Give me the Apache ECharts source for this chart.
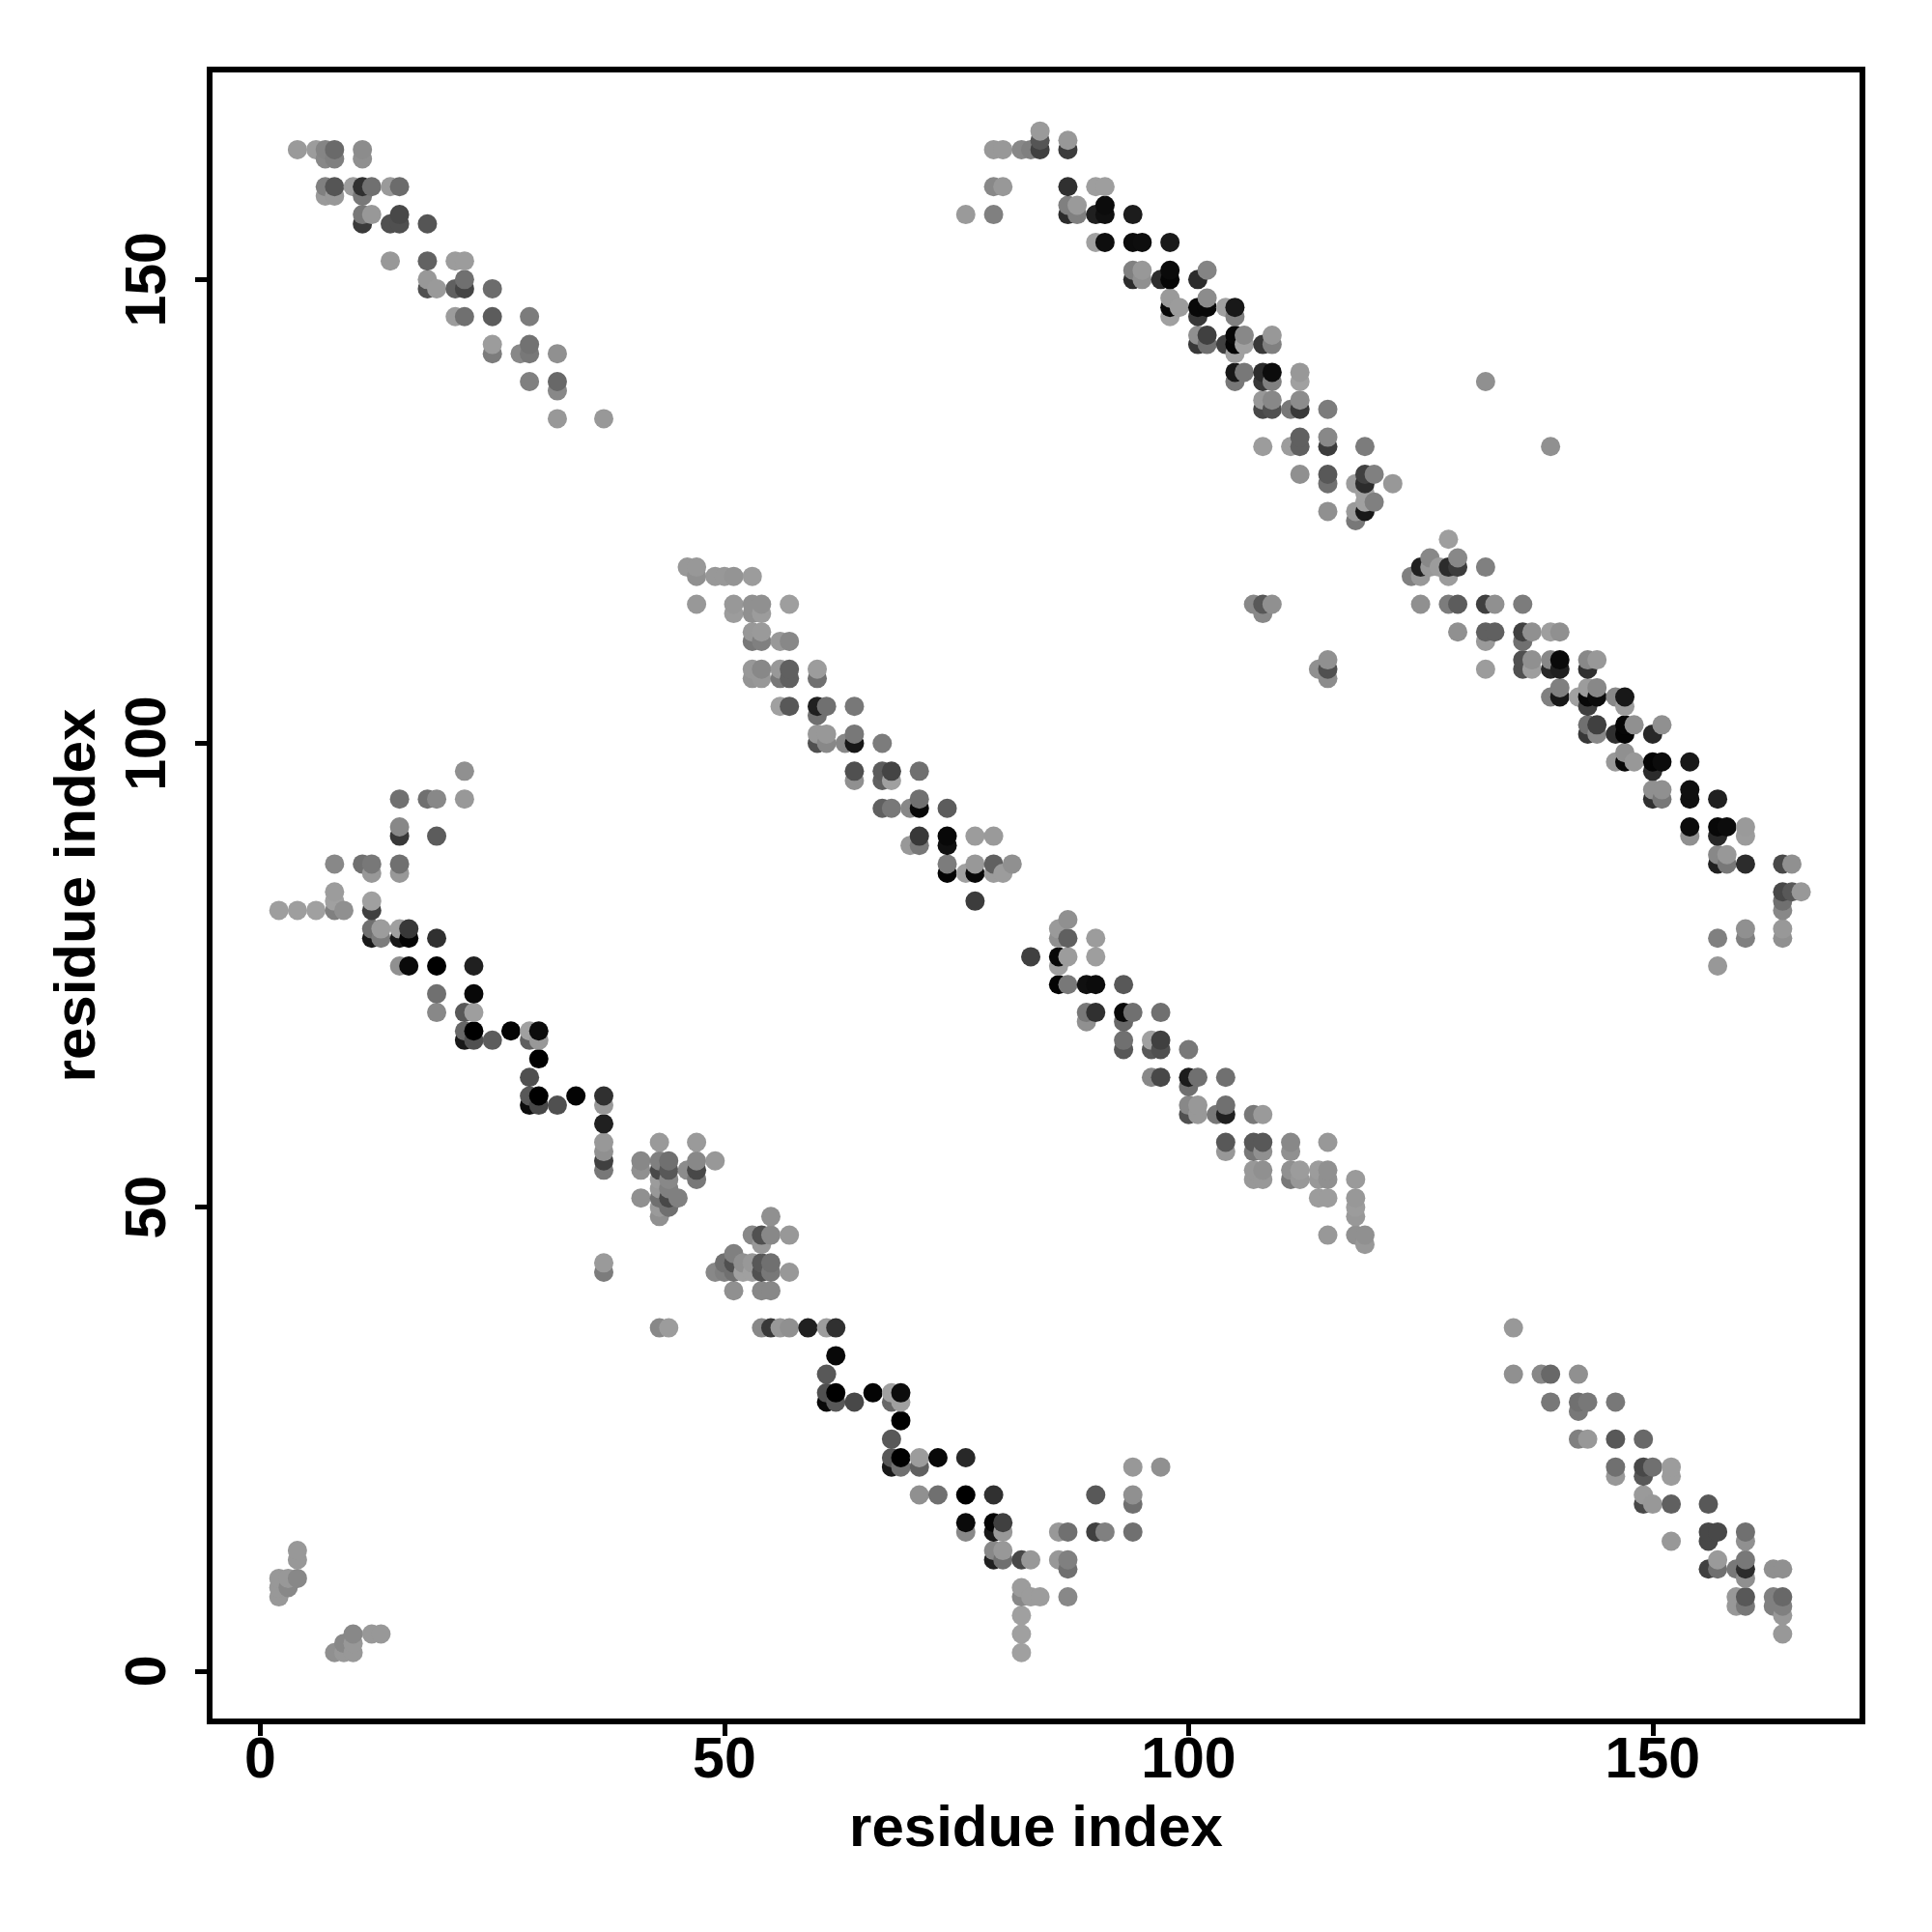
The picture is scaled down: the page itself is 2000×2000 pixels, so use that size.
<!DOCTYPE html>
<html><head><meta charset="utf-8">
<style>html,body{margin:0;padding:0;background:#fff}#c{width:2000px;height:2000px}</style>
<script src="https://cdn.jsdelivr.net/npm/echarts@6/dist/echarts.min.js"></script>
</head><body><div id="c"></div>
<script>
const tickValues = [0, 50, 100, 150];
const xTitle = 'residue index';
const yTitle = 'residue index';
// each point: [residue i, residue j, grey level]
const upperLeftBand = [
[4,164,0x9a],[6,164,0x9c],[7,164,0x85],[8,164,0x6a],[11,164,0x8c],
[7,163,0x88],[8,163,0x80],[11,163,0x90],
[7,160,0x80],[8,160,0x55],[10,160,0x9c],[11,160,0x30],[12,160,0x70],[14,160,0x9a],[15,160,0x6c],
[7,159,0x9a],[8,159,0x98],[11,159,0x78],
[11,157,0x78],[12,157,0x98],[15,157,0x48],
[11,156,0x3a],[14,156,0x50],[15,156,0x50],[18,156,0x55],
[14,152,0x98],[18,152,0x62],[21,152,0x9c],[22,152,0x9c],
[18,150,0x98],[22,150,0x70],
[18,149,0x50],[19,149,0x9a],[21,149,0x60],[22,149,0x45],[25,149,0x6c],
[21,146,0x9c],[22,146,0x70],[25,146,0x5c],[29,146,0x7c],
[25,143,0x9c],[29,143,0x72],
[25,142,0x7c],[28,142,0x88],[29,142,0x78],[32,142,0x90],
[29,139,0x80],[32,139,0x68],
[32,138,0x88],
[32,135,0x98],[37,135,0x98]
];
const upperRightBand = [
[84,166,0x9a],
[84,165,0x55],[87,165,0x98],
[79,164,0x98],[80,164,0x98],[82,164,0x88],[83,164,0x80],[84,164,0x40],[87,164,0x3c],
[79,160,0x88],[80,160,0x98],[87,160,0x30],[90,160,0x9e],[91,160,0x9e],
[87,158,0x80],[88,158,0x9a],[91,158,0x0c],
[76,157,0x9a],[79,157,0x80],[87,157,0x2c],[88,157,0x80],[90,157,0x20],[91,157,0x10],[94,157,0x1c],
[90,154,0xa0],[91,154,0x0e],[94,154,0x0c],[95,154,0x0e],[98,154,0x1a],
[94,151,0x80],[95,151,0x98],[98,151,0x0a],[102,151,0x84],
[94,150,0x2c],[95,150,0x90],[97,150,0x2c],[98,150,0x06],[101,150,0x2c],
[98,148,0x9a],[102,148,0x8c],
[98,147,0x08],[99,147,0x9c],[101,147,0x08],[102,147,0x08],[104,147,0xa0],[105,147,0x18],
[98,146,0xa0],[101,146,0x38],[105,146,0x80],
[101,144,0x90],[102,144,0x40],[105,144,0x08],[106,144,0x88],[109,144,0x98],
[101,143,0x38],[102,143,0x70],[104,143,0x40],[105,143,0x04],[106,143,0xa0],[108,143,0x38],[109,143,0x80],
[105,142,0xa0],
[105,140,0x18],[106,140,0x78],[108,140,0x2c],[109,140,0x0c],[112,140,0x98],
[105,139,0x78],[108,139,0x38],[109,139,0x80],[112,139,0xa0],[132,139,0x90],
[108,137,0x98],[109,137,0x88],[112,137,0x8c],
[108,136,0x48],[109,136,0x50],[111,136,0x78],[112,136,0x38],[115,136,0x7c],
[112,133,0x60],[115,133,0x88],
[108,132,0x9c],[111,132,0x9c],[112,132,0x60],[115,132,0x3c],[119,132,0x7c],[139,132,0x90],
[112,129,0x90],[115,129,0x58],[119,129,0x40],[120,129,0x80],
[115,128,0x70],[118,128,0x9c],[119,128,0x2c],[122,128,0x98],
[119,127,0xa0],
[119,126,0xa0],[120,126,0x80],
[115,125,0x90],[118,125,0x9a],[119,125,0x18],
[118,124,0x78],
[128,122,0x9e],
[126,120,0x88],[129,120,0x88],
[125,119,0x20],[126,119,0x98],[127,119,0x9c],[128,119,0x2c],[129,119,0x3c],[132,119,0x80],
[124,118,0x80],[125,118,0x98],[128,118,0x9c],
[107,115,0x88],[108,115,0x58],[109,115,0x90],[125,115,0x90],[128,115,0x7c],[129,115,0x5c],[132,115,0x40],[133,115,0x90],[136,115,0x7c],
[108,114,0x88],
[129,112,0x90],[132,112,0x60],[133,112,0x60],[136,112,0x40],[137,112,0x90],[139,112,0x9e],[140,112,0x90],
[132,111,0x9a],[136,111,0x70],
[115,109,0x90],[136,109,0x50],[137,109,0x90],[139,109,0x88],[140,109,0x0a],[143,109,0x88],[144,109,0x98],
[114,108,0x90],[115,108,0x50],[132,108,0x9c],[136,108,0x50],[137,108,0x9e],[139,108,0x28],[140,108,0x20],[143,108,0x30],
[115,107,0x8c],
[140,106,0x80],[143,106,0x9c],[144,106,0x88],
[139,105,0x80],[140,105,0x18],[142,105,0xa0],[143,105,0x08],[144,105,0x0c],[146,105,0x88],[147,105,0x18],
[143,104,0x40],[147,104,0x9c],
[143,102,0x70],[144,102,0x40],[147,102,0x06],[148,102,0x90],[151,102,0x90],
[143,101,0x38],[144,101,0x88],[146,101,0x30],[147,101,0x04],[150,101,0x28],
[147,99,0x90],
[146,98,0x98],[147,98,0x08],[148,98,0x98],[150,98,0x04],[151,98,0x0c],[154,98,0x18],
[150,97,0x2c],
[150,95,0x90],[151,95,0x90],[154,95,0x10],
[150,94,0x30],[151,94,0x78],[154,94,0x10],[157,94,0x20],
[154,91,0x0c],[157,91,0x08],[158,91,0x0c],[160,91,0x9a],
[154,90,0x90],[157,90,0x28],[160,90,0x9c],
[157,88,0x88],[158,88,0x98],
[157,87,0x20],[158,87,0x78],[160,87,0x2c],[164,87,0x48],[165,87,0x90],
[164,84,0x48],[165,84,0x58],[166,84,0x98],
[164,83,0x70],
[164,82,0x88],
[160,80,0x90],[164,80,0x98],
[157,79,0x80],[160,79,0x80],[164,79,0x90],
[157,76,0x98]
];
const middleBand = [
[46,119,0x98],[47,119,0x98],
[47,118,0x90],[49,118,0x98],[50,118,0x98],[51,118,0x94],[53,118,0x9c],
[47,115,0x98],[51,115,0x98],[53,115,0x90],[54,115,0x90],[57,115,0x9e],
[51,114,0x9c],[53,114,0x90],[54,114,0x9c],
[53,112,0x98],[54,112,0x9a],
[53,111,0x78],[54,111,0x80],[56,111,0x98],[57,111,0x88],
[53,108,0x98],[54,108,0x88],[56,108,0x98],[57,108,0x60],[60,108,0x9c],
[53,107,0x94],[54,107,0x98],[56,107,0x78],[57,107,0x60],[60,107,0x70],
[56,104,0xa0],[57,104,0x58],[60,104,0x20],[61,104,0x70],[64,104,0x78],
[60,103,0x70],
[60,101,0x98],[61,101,0x98],[64,101,0x78],
[60,100,0x50],[61,100,0x88],[63,100,0x88],[64,100,0x18],[67,100,0x7c],
[64,97,0x50],[67,97,0x5c],[68,97,0x44],[71,97,0x70],
[64,96,0x90],[67,96,0x60],[68,96,0xa0],
[71,94,0x70],
[67,93,0x60],[68,93,0x78],[70,93,0x88],[71,93,0x08],[74,93,0x5c],
[71,90,0x38],[74,90,0x08],[77,90,0x9c],[79,90,0x9a],
[70,89,0x98],[71,89,0x78],[74,89,0x10],
[74,87,0x7c],[77,87,0x98],[79,87,0x60],[81,87,0x90],
[74,86,0x04],[76,86,0xa0],[77,86,0x08],[79,86,0x9c],[80,86,0x9c],
[77,83,0x3c],
[87,81,0x90],
[86,80,0x9a],
[86,79,0x90],[87,79,0x60],[90,79,0x9c],
[83,77,0x40],[86,77,0x08],[87,77,0x9c],[90,77,0x9e],
[86,76,0xa0],
[86,74,0x04],[87,74,0x78],[89,74,0x10],[90,74,0x0c],[93,74,0x58],
[89,71,0x78],[90,71,0x30],[93,71,0x08],[94,71,0x70],[97,71,0x70],
[89,70,0x90],[93,70,0x68],
[93,68,0x70],[96,68,0xa0],[97,68,0x40],
[93,67,0x58],[96,67,0x58],[97,67,0x50],[100,67,0x78],
[96,64,0x88],[97,64,0x48],[100,64,0x1c],[101,64,0x70],[104,64,0x70],
[100,63,0x70],
[100,61,0x88],[101,61,0x98],[104,61,0x70],
[100,60,0x50],[101,60,0x98],[103,60,0x78],[104,60,0x20],[107,60,0x78],[108,60,0x9a],
[104,57,0x58],[107,57,0x58],[108,57,0x58],[111,57,0x88],[115,57,0x98],
[104,56,0x98],[107,56,0x78],[108,56,0x90],[111,56,0x90],
[107,54,0x98],[108,54,0x90],[111,54,0x90],[112,54,0x9c],[114,54,0x9c],[115,54,0x90],
[107,53,0x98],[108,53,0x98],[111,53,0x78],[112,53,0x98],[114,53,0x98],[115,53,0x90],[118,53,0x9a],
[114,51,0x9c],[115,51,0x9c],[118,51,0x98],
[118,50,0x9c],
[118,49,0x98],
[115,47,0x98],[118,47,0x90],[119,47,0x90],
[119,46,0x98]
];
const lowerBandTop = [
[22,97,0x90],
[15,94,0x70],[18,94,0x70],[19,94,0x88],[22,94,0x98],
[15,91,0x88],
[15,90,0x38],[19,90,0x5c],
[8,87,0x88],[11,87,0x70],[12,87,0x78],[15,87,0x70],
[12,86,0x98],[15,86,0x98],
[8,84,0x9c],
[8,83,0xa0],[12,83,0xa0],
[2,82,0x9e],[4,82,0x9e],[6,82,0xa0],[8,82,0x80],[9,82,0x90],[12,82,0x40],
[12,80,0x70],[13,80,0x9c],[15,80,0xa0],[16,80,0x38],
[12,79,0x18],[13,79,0x7c],[15,79,0x18],[16,79,0x04],[19,79,0x30],
[15,76,0x90],[16,76,0x0a],[19,76,0x00],[23,76,0x20],
[19,73,0x70],[23,73,0x08],
[19,71,0x88],[22,71,0x58],[23,71,0x9e],
[22,69,0x68],[23,69,0x00],[27,69,0x04],[29,69,0xa0],[30,69,0x0c],
[22,68,0x18],[23,68,0x50],[25,68,0x5c],[29,68,0x60],[30,68,0x98],
[30,66,0x00],
[29,64,0x50],
[29,62,0x58],[30,62,0x00],[34,62,0x04],[37,62,0x30],
[29,61,0x0c],[30,61,0x48],[32,61,0x50],[37,61,0x98],
[37,59,0x20],
[37,57,0x98],[43,57,0x9a],[47,57,0x9a],
[37,56,0x90],
[37,55,0x40],[41,55,0x88],[43,55,0x80],[44,55,0x70],[47,55,0x88],[49,55,0x98],
[37,54,0x78],[41,54,0x90],[43,54,0x48],[44,54,0x58],[46,54,0x8c],[47,54,0x48],
[43,53,0x9c],[44,53,0x88],[47,53,0x78],
[43,52,0x98],[44,52,0x80],
[41,51,0x90],[43,51,0x70],[44,51,0x48],[45,51,0x80],
[43,50,0x9a],[44,50,0x70],
[43,49,0x90],
[55,49,0x90],
[53,47,0x88],[54,47,0x50],[55,47,0x88],[57,47,0x98],
[54,46,0x98],
[51,45,0x80],
[37,44,0x9a],[50,44,0x70],[51,44,0x50],[52,44,0x90],[53,44,0x98],[54,44,0x58],[55,44,0x70],
[37,43,0x7c],[49,43,0x88],[50,43,0x80],[51,43,0x70],[52,43,0xa0],[53,43,0xa0],[54,43,0x50],[55,43,0x78],[57,43,0x98],
[51,41,0x90],[54,41,0x88],[55,41,0x88]
];
const lowerBandBottom = [
[43,37,0x88],[44,37,0x9c],[54,37,0x88],[55,37,0x38],[56,37,0x98],[57,37,0x90],[59,37,0x20],[61,37,0x9c],[62,37,0x30],
[62,34,0x08],
[61,32,0x58],
[61,30,0x50],[62,30,0x00],[66,30,0x04],[68,30,0xa0],[69,30,0x0c],
[61,29,0x08],[62,29,0x58],[64,29,0x48],[68,29,0x68],[69,29,0xa0],
[69,27,0x00],
[68,25,0x58],
[68,23,0x58],[69,23,0x00],[71,23,0x9c],[73,23,0x08],[76,23,0x28],
[68,22,0x18],[69,22,0x70],[71,22,0x60],[94,22,0x98],[97,22,0x90],
[71,19,0x90],[73,19,0x70],[76,19,0x00],[79,19,0x30],[90,19,0x58],[94,19,0x90],
[94,18,0x70],
[76,16,0x0a],[79,16,0x04],[80,16,0x40],
[76,15,0x88],[79,15,0x18],[80,15,0x98],[86,15,0x98],[87,15,0x70],[90,15,0x40],[91,15,0x80],[94,15,0x70],
[79,13,0x88],[80,13,0x98],
[79,12,0x20],[80,12,0x70],[82,12,0x48],[83,12,0x98],[86,12,0x98],[87,12,0x80],
[87,11,0x70],
[82,9,0x9c],
[82,8,0x88],[83,8,0x9c],[84,8,0x9c],[87,8,0x88],
[82,6,0xa0],
[82,4,0xa0],
[82,2,0xa0]
];
const lowerRightBand = [
[135,37,0x98],
[135,32,0x90],[138,32,0x88],[139,32,0x68],[142,32,0x90],
[139,29,0x78],[142,29,0x70],[143,29,0x78],[146,29,0x78],
[142,28,0x78],
[142,25,0x80],[143,25,0x98],[146,25,0x58],[149,25,0x68],
[146,22,0x70],[149,22,0x48],[150,22,0x70],[152,22,0x9c],
[146,21,0x98],[149,21,0x58],[152,21,0x9c],
[149,19,0x9a],
[149,18,0x48],[150,18,0x98],[152,18,0x60],[156,18,0x58],
[156,15,0x48],[157,15,0x48],[160,15,0x70],
[152,14,0x98],[156,14,0x48],[160,14,0x90],
[157,12,0x9a],[160,12,0x78],
[156,11,0x40],[157,11,0x70],[159,11,0x78],[160,11,0x2c],[163,11,0x90],[164,11,0x90],
[160,10,0x90],
[159,8,0x98],[160,8,0x58],[163,8,0x80],[164,8,0x68],
[159,7,0x98],[160,7,0x78],[163,7,0x80],[164,7,0x80],
[164,6,0x98],
[164,4,0x98]
];
const cornerCluster = [
[4,13,0x98],[4,12,0x98],
[2,10,0x98],[3,10,0x98],[4,10,0x88],
[2,9,0x98],[3,9,0x88],
[2,8,0x98],
[10,4,0x88],[12,4,0x98],[13,4,0x98],
[9,3,0x88],[10,3,0x98],
[8,2,0x90],[9,2,0x98],[10,2,0x98]
];
const bands = [upperLeftBand, upperRightBand, middleBand, lowerBandTop, lowerBandBottom, lowerRightBand, cornerCluster];
const byColumn = (a, b) => a[0] - b[0] || a[1] - b[1];
const chart = echarts.init(document.getElementById('c'), null, {renderer: 'canvas'});
const labelFont = {fontFamily: 'Liberation Sans', fontWeight: 'bold', fontSize: 59, color: '#000'};
const titleFont = Object.assign({}, labelFont, {fontSize: 60});
const axisBase = {
  type: 'value',
  splitLine: {show: false},
  axisLine: {show: false, onZero: false},
  axisTick: {show: true, length: 15, inside: false, customValues: tickValues, lineStyle: {color: '#000', width: 5}},
  axisLabel: Object.assign({show: true, customValues: tickValues, formatter: v => String(v)}, labelFont),
  nameLocation: 'middle',
  nameTextStyle: titleFont
};
chart.setOption({
  animation: false,
  backgroundColor: '#fff',
  grid: {show: true, left: 217, top: 72, width: 1711, height: 1710, borderColor: '#000', borderWidth: 6, backgroundColor: 'transparent'},
  xAxis: Object.assign({}, axisBase, {min: -5.46, max: 172.6, name: xTitle, nameGap: 82,
    axisLabel: Object.assign({}, axisBase.axisLabel, {margin: 12})}),
  yAxis: Object.assign({}, axisBase, {min: -5.42, max: 172.63, name: yTitle, nameGap: 106,
    axisLabel: Object.assign({}, axisBase.axisLabel, {rotate: 90, margin: 33})}),
  series: bands.map(band => ({
    type: 'scatter',
    symbol: 'circle',
    symbolSize: 20,
    clip: false,
    silent: true,
    data: band.slice().sort(byColumn),
    itemStyle: {opacity: 1, borderWidth: 0, color: p => { const g = p.data[2]; return 'rgb(' + g + ',' + g + ',' + g + ')'; }}
  }))
});
</script></body></html>
